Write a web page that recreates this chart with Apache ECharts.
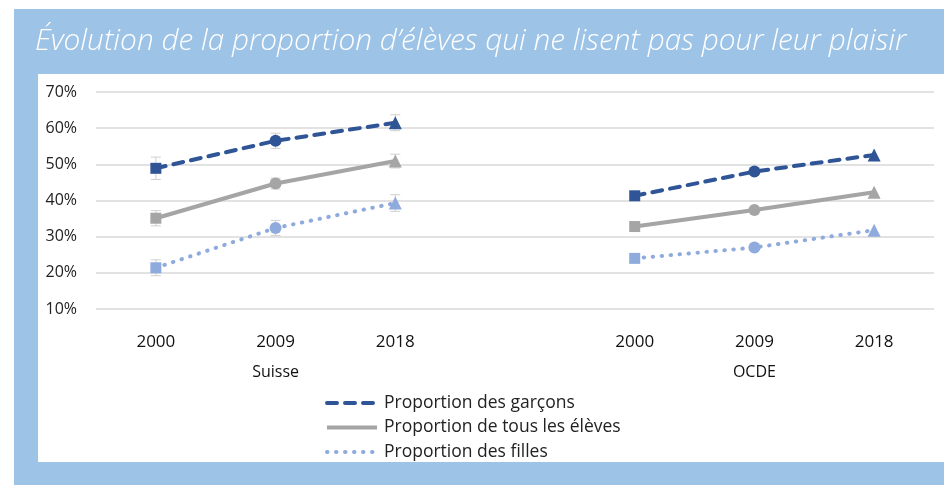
<!DOCTYPE html>
<html>
<head>
<meta charset="utf-8">
<script src="https://cdn.jsdelivr.net/npm/echarts@6/dist/echarts.min.js"></script>
<style>
  html, body { margin: 0; padding: 0; background: #fff; }
  #chart { width: 944px; height: 485px; }
</style>
</head>
<body>
<div id="chart"></div>
<script>
// categories (empty slot separates the two groups)
const years = ["2000", "2009", "2018", "", "2000", "2009", "2018"];
const groups = ["", "Suisse", "", "", "", "OCDE", ""];
const yTicks = [10, 20, 30, 40, 50, 60, 70];

// proportions in %
const garcons = [48.9, 56.5, 61.5, null, 41.3, 48.0, 52.6];
const tous = [35.1, 44.7, 50.9, null, 32.8, 37.4, 42.3];
const filles = [21.4, 32.4, 39.3, null, 24.0, 27.0, 31.8];

// error margins (only shown for Suisse)
const garconsErr = [3.1, 2.1, 2.2, null, null, null, null];
const tousErr = [2.1, 1.5, 1.9, null, null, null, null];
const fillesErr = [2.2, 2.1, 2.3, null, null, null, null];

const seriesNames = ["Proportion des garçons", "Proportion de tous les élèves", "Proportion des filles"];

const shapes = ["rect", "circle", "triangle", "none", "rect", "circle", "triangle"];
const sizes = { rect: 11, circle: 12, triangle: 13, none: 0 };

const chart = echarts.init(document.getElementById("chart"));

function lineData(values) {
    return values.map(function (v, i) {
        if (v === null) return "-";
        return { value: v, symbol: shapes[i], symbolSize: sizes[shapes[i]] };
    });
}

function errData(values, errs) {
    const out = [];
    values.forEach(function (v, i) {
        if (errs[i] != null) out.push([i, v - errs[i], v + errs[i]]);
    });
    return out;
}

function renderErr(params, api) {
    const lo = api.coord([api.value(0), api.value(1)]);
    const hi = api.coord([api.value(0), api.value(2)]);
    const w = 5;
    const style = { stroke: "#d0d0d0", lineWidth: 1 };
    return {
        type: "group",
        children: [
            { type: "line", shape: { x1: lo[0], y1: lo[1], x2: hi[0], y2: hi[1] }, style: style },
            { type: "line", shape: { x1: lo[0] - w, y1: lo[1], x2: lo[0] + w, y2: lo[1] }, style: style },
            { type: "line", shape: { x1: hi[0] - w, y1: hi[1], x2: hi[0] + w, y2: hi[1] }, style: style }
        ]
    };
}

const colors = ["#2f5597", "#a5a5a5", "#8faadc"];
const lineStyles = [
    { width: 4, type: [10, 8], cap: "round" },
    { width: 4, type: "solid" },
    { width: 4, type: [0.5, 8.5], cap: "round" }
];
const values = [garcons, tous, filles];
const errs = [garconsErr, tousErr, fillesErr];

const series = [];
values.forEach(function (vals, k) {
    series.push({
        type: "custom",
        renderItem: renderErr,
        data: errData(vals, errs[k]),
        z: 1,
        silent: true
    });
});
values.forEach(function (vals, k) {
    series.push({
        name: seriesNames[k],
        type: "line",
        data: lineData(vals),
        connectNulls: false,
        color: colors[k],
        lineStyle: Object.assign({ color: colors[k] }, lineStyles[k]),
        itemStyle: { color: colors[k] },
        z: 3
    });
});

chart.setOption({
    animation: false,
    textStyle: { fontFamily: "Open Sans" },
    graphic: [
        { type: "rect", shape: { x: 14, y: 9, width: 930, height: 476 }, style: { fill: "#9dc3e6" }, z: -10 },
        { type: "rect", shape: { x: 38, y: 74, width: 906, height: 388 }, style: { fill: "#ffffff" }, z: -9 }
    ],
    title: {
        text: "Évolution de la proportion d’élèves qui ne lisent pas pour leur plaisir",
        left: 30,
        top: 22,
        textStyle: { color: "#ffffff", fontSize: 29.8, fontStyle: "italic", fontWeight: 300, fontFamily: "Open Sans" }
    },
    legend: {
        orient: "vertical",
        left: 325,
        top: 394,
        padding: 0,
        itemWidth: 50,
        itemHeight: 14,
        itemGap: 6.5,
        data: seriesNames,
        itemStyle: { opacity: 0 },
        lineStyle: { width: 4 },
        textStyle: { fontSize: 17.5, lineHeight: 18, color: "#222222", padding: [0, 0, 0, 2] }
    },
    grid: { left: 96, right: 10, top: 92, bottom: 176 },
    xAxis: [
        {
            type: "category",
            data: years,
            boundaryGap: true,
            axisLine: { show: false },
            axisTick: { show: false },
            axisLabel: { fontSize: 17, color: "#111111", margin: 25, interval: 0 }
        },
        {
            type: "category",
            data: groups,
            position: "bottom",
            offset: 30,
            boundaryGap: true,
            axisLine: { show: false },
            axisTick: { show: false },
            axisLabel: { fontSize: 16, color: "#111111", margin: 25, interval: 0 }
        }
    ],
    yAxis: {
        type: "value",
        min: yTicks[0],
        max: yTicks[yTicks.length - 1],
        interval: 10,
        axisLine: { show: false },
        axisTick: { show: false },
        splitLine: { lineStyle: { color: "#d9d9d9", width: 1.5 } },
        axisLabel: { fontSize: 16, color: "#222222", margin: 19, formatter: "{value}%" }
    },
    series: series
});
</script>
</body>
</html>
